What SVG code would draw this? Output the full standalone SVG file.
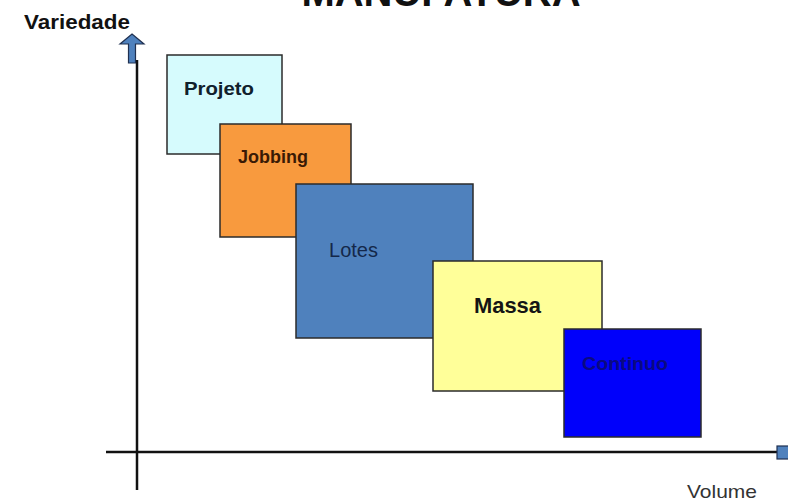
<svg xmlns="http://www.w3.org/2000/svg" width="788" height="502" viewBox="0 0 788 502">
<style>
.box{stroke:#2b2b2b;stroke-width:1.5}
.axis{stroke:#111;stroke-width:2.5;fill:none}
.lbl{font-family:"Liberation Sans",Arial,sans-serif}
.b{font-weight:bold}
</style>
<rect width="788" height="502" fill="#ffffff"/>
<text class="lbl b" x="441" y="6" font-size="40" text-anchor="middle" fill="#111">MANUFATURA</text>
<g id="axes">
<line class="axis" x1="137" y1="60" x2="137" y2="490"/>
<line class="axis" x1="106" y1="452" x2="779" y2="452"/>
<polygon points="132,34 144,44 135.5,44 135.5,63 128.5,63 128.5,44 120,44" fill="#4f81bd" stroke="#1f3050" stroke-width="1.2"/>
<rect x="777" y="446" width="13" height="13" fill="#4f81bd" stroke="#1f3050" stroke-width="1.2"/>
<text class="lbl b" x="24" y="29" font-size="20" textLength="106" lengthAdjust="spacingAndGlyphs" fill="#111">Variedade</text>
<text class="lbl" x="687" y="498" font-size="19" textLength="70" lengthAdjust="spacingAndGlyphs" fill="#333">Volume</text>
</g>
<g id="projeto">
<rect class="box" x="167" y="55" width="115" height="99" fill="#d6fbfd"/>
<text class="lbl b" x="184" y="95" font-size="19" textLength="70" lengthAdjust="spacingAndGlyphs" fill="#10202c">Projeto</text>
</g>
<g id="jobbing">
<rect class="box" x="220" y="124" width="131" height="113" fill="#f89a3e"/>
<text class="lbl b" x="238" y="163" font-size="18" textLength="70" lengthAdjust="spacingAndGlyphs" fill="#3a1a05">Jobbing</text>
</g>
<g id="lotes">
<rect class="box" x="296" y="184" width="177" height="154" fill="#4f81bd"/>
<text class="lbl" x="329" y="257" font-size="20" textLength="49" lengthAdjust="spacingAndGlyphs" fill="#14284a">Lotes</text>
</g>
<g id="massa">
<rect class="box" x="433" y="261" width="169" height="130" fill="#ffff99"/>
<text class="lbl b" x="474" y="313" font-size="22" textLength="67" lengthAdjust="spacingAndGlyphs" fill="#151515">Massa</text>
</g>
<g id="continuo">
<rect class="box" x="564" y="329" width="137" height="108" fill="#0000fb"/>
<text class="lbl b" x="582" y="370" font-size="19" textLength="86" lengthAdjust="spacingAndGlyphs" fill="#0a0a80">Continuo</text>
</g>
</svg>
